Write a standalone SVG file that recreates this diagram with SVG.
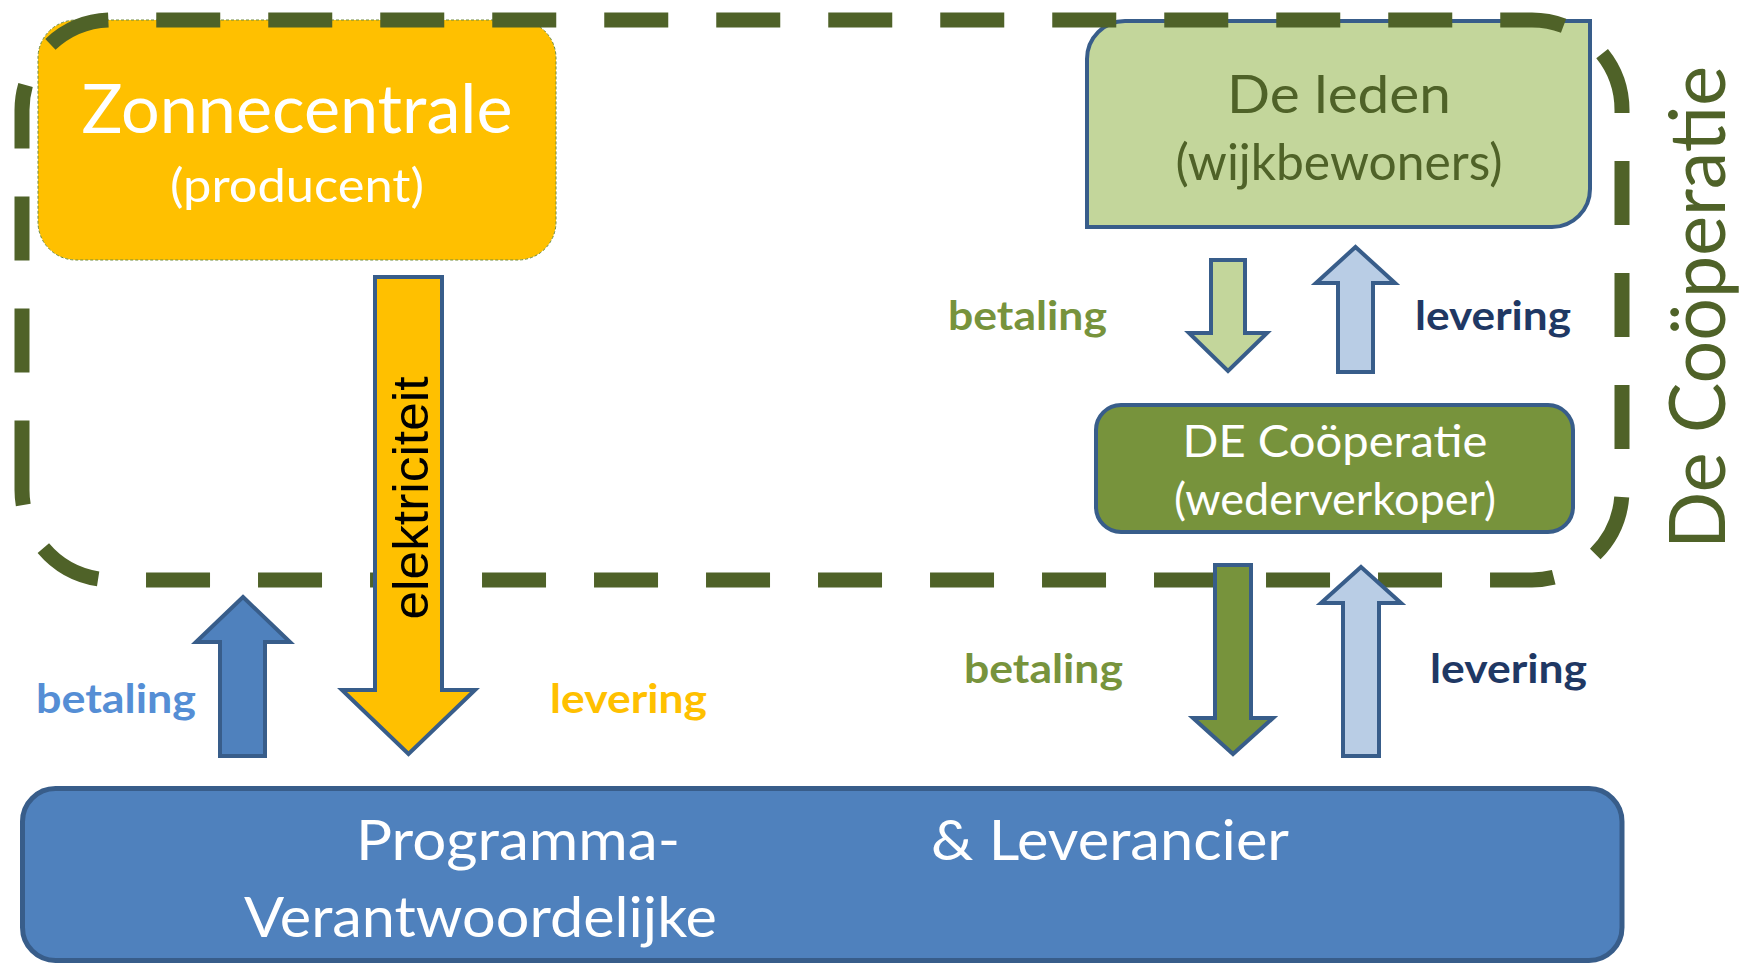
<svg xmlns="http://www.w3.org/2000/svg" width="1742" height="963" viewBox="0 0 1742 963">
<style>
.t{font-family:Lato,"Open Sans","Liberation Sans",sans-serif;}
.b{font-weight:bold;font-size:41px;}
.arr{stroke:#385D8A;stroke-width:4;stroke-linejoin:miter;}
.box{stroke:#385D8A;stroke-width:4;}
</style>
<rect width="1742" height="963" fill="#FFFFFF"/>
<g id="zonnecentrale">
<rect x="38" y="20" width="518" height="240" rx="38" ry="38" fill="#FFC000" stroke="#6E8B3D" stroke-width="1" stroke-dasharray="3 2"/>
<text class="t" x="297" y="133" font-size="67" fill="#FFFFFF" text-anchor="middle" textLength="431" lengthAdjust="spacingAndGlyphs">Zonnecentrale</text>
<text class="t" x="297" y="202" font-size="46" fill="#FFFFFF" text-anchor="middle" textLength="254" lengthAdjust="spacingAndGlyphs">(producent)</text>
</g>
<g id="leden">
<path class="box" d="M1125,21 H1590 V189 A38,38 0 0 1 1552,227 H1087 V59 A38,38 0 0 1 1125,21 Z" fill="#C3D69B"/>
<text class="t" x="1339" y="113" font-size="53" fill="#4F6228" text-anchor="middle" textLength="224" lengthAdjust="spacingAndGlyphs">De leden</text>
<text class="t" x="1339" y="180" font-size="51" fill="#4F6228" text-anchor="middle" textLength="327" lengthAdjust="spacingAndGlyphs">(wijkbewoners)</text>
</g>
<g id="cooperatie">
<rect class="box" x="1096" y="405" width="477" height="127" rx="25" ry="25" fill="#77933C"/>
<text class="t" x="1335" y="457" font-size="45" fill="#FFFFFF" text-anchor="middle" textLength="305" lengthAdjust="spacingAndGlyphs">DE Coöperatie</text>
<text class="t" x="1335" y="515" font-size="45" fill="#FFFFFF" text-anchor="middle" textLength="322" lengthAdjust="spacingAndGlyphs">(wederverkoper)</text>
</g>
<g id="leverancier">
<rect x="22.5" y="788.5" width="1599.5" height="172" rx="33" ry="33" fill="#4F81BD" stroke="#385D8A" stroke-width="5"/>
<text class="t" x="518" y="860" font-size="56" fill="#FFFFFF" text-anchor="middle" textLength="324" lengthAdjust="spacingAndGlyphs">Programma-</text>
<text class="t" x="1110" y="860" font-size="56" fill="#FFFFFF" text-anchor="middle" textLength="358" lengthAdjust="spacingAndGlyphs">&amp; Leverancier</text>
<text class="t" x="480.5" y="937" font-size="56" fill="#FFFFFF" text-anchor="middle" textLength="473" lengthAdjust="spacingAndGlyphs">Verantwoordelijke</text>
</g>
<g id="cooperatie-grens">
<path d="M22,484.6 V110 A90,90 0 0 1 112,20 H1532 A90,90 0 0 1 1622,110 V490 A90,90 0 0 1 1532,580 H112 A90,90 0 0 1 22,490 Z" fill="none" stroke="#4F6228" stroke-width="15" stroke-dasharray="64 48"/>
<text class="t" transform="translate(1725,307.5) rotate(-90)" x="0" y="0" font-size="78" fill="#4F6228" text-anchor="middle" textLength="483" lengthAdjust="spacingAndGlyphs">De Coöperatie</text>
</g>
<g id="connectors">
<polygon class="arr" points="375,277 442,277 442,690 475,690 408.5,754 342,690 375,690" fill="#FFC000"/>
<text transform="translate(428,498) rotate(-90)" x="0" y="0" font-family="Liberation Sans, Arial, sans-serif" font-size="50" fill="#000000" text-anchor="middle" textLength="243" lengthAdjust="spacingAndGlyphs">elektriciteit</text>
<polygon class="arr" points="243,597 290,642 265,642 265,756 220,756 220,642 196,642" fill="#4F81BD"/>
<polygon class="arr" points="1211,260 1245,260 1245,333 1267,333 1228,371 1189,333 1211,333" fill="#C3D69B"/>
<polygon class="arr" points="1355.5,247 1395,283 1373,283 1373,372 1338,372 1338,283 1316,283" fill="#B9CDE5"/>
<polygon class="arr" points="1215,565 1251,565 1251,718 1273,718 1233,754 1193,718 1215,718" fill="#77933C"/>
<polygon class="arr" points="1361,567 1401,603 1379,603 1379,756 1343,756 1343,603 1321,603" fill="#B9CDE5"/>
<text class="t b" x="948" y="330" fill="#77933C" textLength="159" lengthAdjust="spacingAndGlyphs">betaling</text>
<text class="t b" x="1415" y="330" fill="#1F3864" textLength="156" lengthAdjust="spacingAndGlyphs">levering</text>
<text class="t b" x="964" y="683" fill="#77933C" textLength="159" lengthAdjust="spacingAndGlyphs">betaling</text>
<text class="t b" x="1430" y="683" fill="#1F3864" textLength="157" lengthAdjust="spacingAndGlyphs">levering</text>
<text class="t b" x="36" y="713" fill="#558ED5" textLength="160" lengthAdjust="spacingAndGlyphs">betaling</text>
<text class="t b" x="550" y="713" fill="#FFC000" textLength="157" lengthAdjust="spacingAndGlyphs">levering</text>
</g>
</svg>
